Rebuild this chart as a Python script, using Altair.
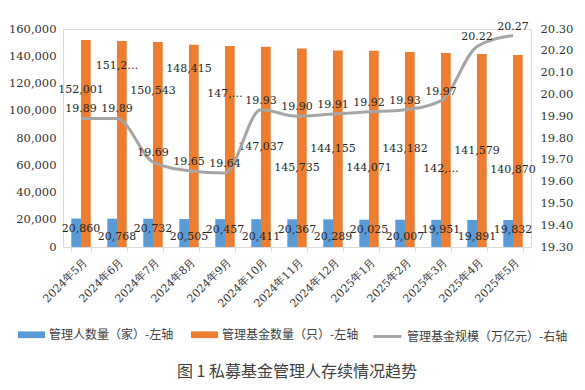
import altair as alt
import pandas as pd

months = ["2024年5月", "2024年6月", "2024年7月", "2024年8月", "2024年9月", "2024年10月",
          "2024年11月", "2024年12月", "2025年1月", "2025年2月", "2025年3月", "2025年4月", "2025年5月"]
managers = [20860, 20768, 20732, 20505, 20457, 20411, 20367, 20289, 20025, 20007, 19951, 19891, 19832]
funds = [152001, 151250, 150543, 148415, 147600, 147037, 145735, 144155, 144071, 143182, 142400, 141579, 140870]
fund_labels = ["152,001", "151,2…", "150,543", "148,415", "147,…", "147,037", "145,735",
               "144,155", "144,071", "143,182", "142,…", "141,579", "140,870"]
scale_vals = [19.89, 19.89, 19.69, 19.65, 19.64, 19.93, 19.90, 19.91, 19.92, 19.93, 19.97, 20.22, 20.27]
left_ticks = [0, 20000, 40000, 60000, 80000, 100000, 120000, 140000, 160000]
right_ticks = [19.3, 19.4, 19.5, 19.6, 19.7, 19.8, 19.9, 20.0, 20.1, 20.2, 20.3]
series_names = ["管理人数量（家）-左轴", "管理基金数量（只）-左轴"]
line_name = "管理基金规模（万亿元）-右轴"
title_text = "图 1  私募基金管理人存续情况趋势"

BLUE = "#5B9BD5"
ORANGE = "#ED7D31"
GRAY = "#A5A5A5"
NUM_FONT = "DejaVu Serif"
CJK_FONT = "Noto Sans CJK SC"

wide = pd.DataFrame({"month": months, "managers": managers, "funds": funds,
                     "fund_label": fund_labels, "scale": scale_vals})
long = pd.DataFrame({
    "month": months + months,
    "series": [series_names[0]] * len(months) + [series_names[1]] * len(months),
    "value": managers + funds,
})

x_enc = alt.X("month:N", sort=months,
              scale=alt.Scale(paddingInner=0.46, paddingOuter=0.23),
              axis=alt.Axis(title=None, labelAngle=-45, labelFont=NUM_FONT, labelFontSize=11,
                            labelColor="#333333", domainColor="#D9D9D9", tickColor="#D9D9D9",
                            tickBand="extent", tickSize=5, labelPadding=4, grid=False))
y_left_scale = alt.Scale(domain=[0, 160000], nice=False)
y_right_scale = alt.Scale(domain=[19.3, 20.3], nice=False, zero=False)


def left_axis():
    return alt.Axis(title=None, values=left_ticks, format=",d", labelFont=NUM_FONT,
                    labelFontSize=11.5, labelColor="#333333", ticks=False,
                    domainColor="#D9D9D9", labelPadding=7, grid=False, labelOverlap=False)


def right_axis():
    return alt.Axis(title=None, orient="right", values=right_ticks, format=".2f",
                    labelFont=NUM_FONT, labelFontSize=11.5, labelColor="#333333",
                    ticks=False, domain=False, labelPadding=9, grid=False, labelOverlap=False)


bars = alt.Chart(long).mark_bar().encode(
    x=x_enc,
    xOffset=alt.XOffset("series:N", sort=series_names, scale=alt.Scale(paddingInner=0, paddingOuter=0)),
    y=alt.Y("value:Q", scale=y_left_scale, axis=left_axis()),
    fill=alt.Fill("series:N", scale=alt.Scale(domain=series_names, range=[BLUE, ORANGE]),
                  legend=alt.Legend(orient="none", legendX=-45, legendY=292, direction="horizontal",
                                    title=None, symbolType="M-1,-0.25H1V0.25H-1Z", symbolSize=729,
                                    symbolStrokeWidth=0, labelFont=CJK_FONT, labelFontSize=12,
                                    labelColor="#404040", labelOffset=4, columnPadding=17,
                                    padding=0, labelLimit=300)),
)

blue_labels = alt.Chart(wide).transform_window(
    idx="row_number()"
).transform_calculate(
    ly="datum.idx % 2 == 1 ? datum.managers * 0.62 : datum.managers * 0.36"
).mark_text(font=NUM_FONT, fontSize=11, color="#262626").encode(
    x=alt.X("month:N", sort=months),
    y=alt.Y("ly:Q", scale=y_left_scale, axis=left_axis()),
    text=alt.Text("managers:Q", format=","),
)

orange_labels = alt.Chart(wide).transform_window(
    idx="row_number()"
).transform_calculate(
    ly="datum.scale < 19.895 ? (datum.idx % 2 == 1 ? datum.funds * 0.76 : datum.funds * 0.88)"
       " : (datum.idx % 2 == 0 ? datum.funds * 0.5 : datum.funds * 0.4)"
).mark_text(font=NUM_FONT, fontSize=11, color="#262626").encode(
    x=alt.X("month:N", sort=months),
    y=alt.Y("ly:Q", scale=y_left_scale, axis=left_axis()),
    text="fund_label:N",
)

left_layer = alt.layer(bars, blue_labels, orange_labels)

line = alt.Chart(wide).transform_calculate(
    metric="'" + line_name + "'"
).mark_line(strokeWidth=3, interpolate="monotone").encode(
    x=alt.X("month:N", sort=months),
    y=alt.Y("scale:Q", scale=y_right_scale, axis=right_axis()),
    stroke=alt.Stroke("metric:N", scale=alt.Scale(domain=[line_name], range=[GRAY]),
                      legend=alt.Legend(orient="none", legendX=309, legendY=292, title=None,
                                        symbolType="stroke", symbolSize=784, symbolStrokeWidth=3,
                                        labelFont=CJK_FONT, labelFontSize=12, labelColor="#404040",
                                        labelOffset=4, padding=0, labelLimit=300)),
)

line_labels = alt.Chart(wide).mark_text(font=NUM_FONT, fontSize=11, color="#262626", dy=-9).encode(
    x=alt.X("month:N", sort=months),
    y=alt.Y("scale:Q", scale=y_right_scale, axis=right_axis()),
    text=alt.Text("scale:Q", format=".2f"),
)

right_layer = alt.layer(line, line_labels)

chart = alt.layer(left_layer, right_layer).resolve_scale(
    y="independent", fill="independent", stroke="independent"
).properties(
    width=468,
    height=218,
    autosize=alt.AutoSizeParams(type="none"),
    padding={"left": 55, "top": 21, "right": 44, "bottom": 136},
    title=alt.TitleParams(title_text, orient="bottom", offset=21, font=CJK_FONT, fontSize=16,
                          fontWeight="normal", color="#404040", anchor="middle"),
).configure_view(stroke=None).configure(background="white")

chart.save("out.html", embed_options={"renderer": "svg", "actions": False})
